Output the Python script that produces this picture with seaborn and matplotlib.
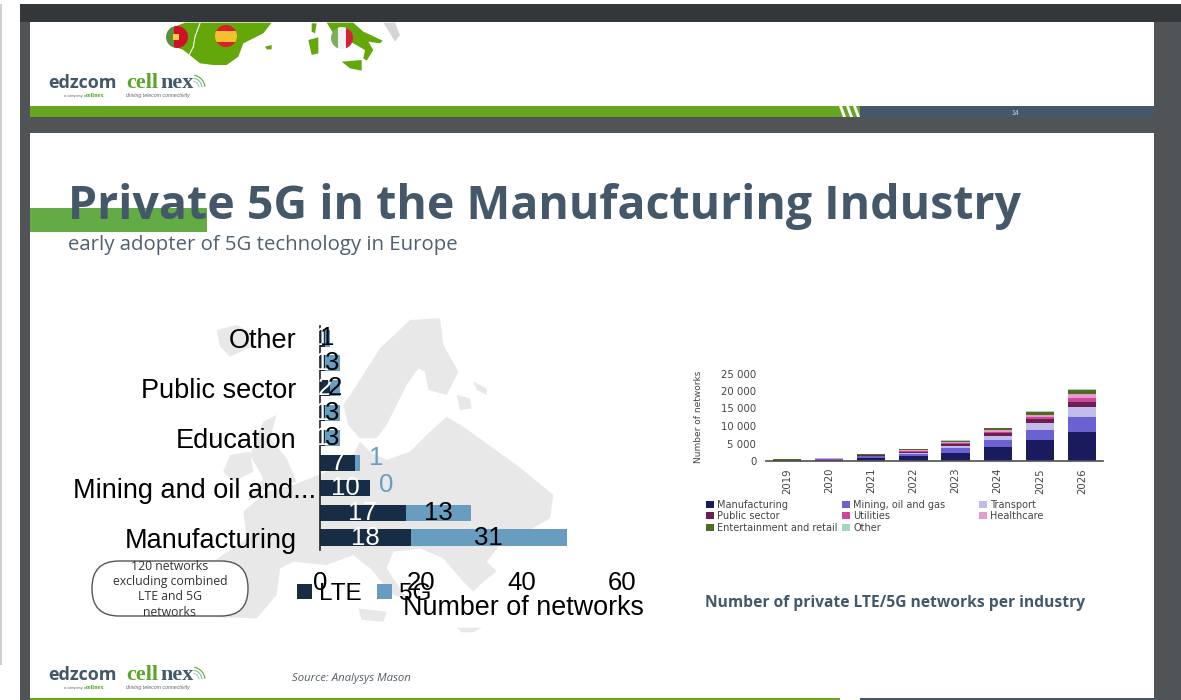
import numpy as np
import pandas as pd
import matplotlib
matplotlib.use('Agg')
import matplotlib.pyplot as plt
from matplotlib.patches import Rectangle, Polygon, Circle, FancyBboxPatch, Arc
from matplotlib.transforms import ScaledTranslation
import seaborn as sns

W, H = 1181, 700

# left chart
row_names = ['Other', 'r2', 'Public sector', 'r4', 'Education', 'r6', 'Mining and oil and...', 'r8', 'Manufacturing']
shown_labels = ['Other', '', 'Public sector', '', 'Education', '', 'Mining and oil and...', '', 'Manufacturing']
lte_values = [1, 1, 2, 1, 1, 7, 10, 17, 18]
g5_values = [1, 3, 2, 3, 3, 1, 0, 13, 31]
left_ticks = [0, 20, 40, 60]

# right chart
years = ['2019', '2020', '2021', '2022', '2023', '2024', '2025', '2026']
manufacturing = [250, 400, 850, 1330, 2380, 4090, 6000, 8200]
mining = [80, 150, 480, 760, 1320, 1900, 2930, 4250]
transport = [30, 50, 100, 290, 580, 1130, 1810, 3050]
public_sector = [30, 70, 190, 280, 470, 760, 1240, 1500]
utilities = [15, 30, 90, 190, 290, 470, 570, 1060]
healthcare = [15, 30, 90, 190, 280, 390, 650, 1050]
entertainment = [15, 40, 100, 290, 480, 570, 680, 1150]
other = [15, 30, 100, 190, 200, 180, 380, 250]
right_ticks = [0, 5000, 10000, 15000, 20000, 25000]
right_tick_labels = ['0', '5 000', '10 000', '15 000', '20 000', '25 000']

series_names = ['Manufacturing', 'Mining, oil and gas', 'Transport', 'Public sector', 'Utilities',
                'Healthcare', 'Entertainment and retail', 'Other']
series_values = [manufacturing, mining, transport, public_sector, utilities, healthcare, entertainment, other]
series_colors = ['#1a1a5e', '#6a62d2', '#c1bdea', '#6e1f52', '#c9479e', '#e59ad0', '#4e6b22', '#a5d6b9']

LTE_COL = '#172c45'
G5_COL = '#689dbf'
SLATE = '#44586a'
GREEN = '#66a51f'


def px_axes(fig, left, top, right, bottom):
    return fig.add_axes([left / W, 1 - bottom / H, (right - left) / W, (bottom - top) / H])


def zoom_poly(points, ox, oy):
    # outlines were traced on 3x crops of the slide
    return [(ox + x / 3, oy + y / 3) for x, y in points]


def flag(bg, cx, cy, r, bands):
    circle = Circle((cx, cy), r, transform=bg.transData, fc='none', ec='none')
    bg.add_patch(circle)
    for x0, y0, w, h, c in bands:
        rect = Rectangle((cx + x0 * r, cy + y0 * r), w * r, h * r, fc=c, ec='none', zorder=3)
        bg.add_patch(rect)
        rect.set_clip_path(circle)


def logo(bg, y):
    bg.text(48, y, 'edzcom', fontsize=13, fontweight='bold', color=SLATE, family='Open Sans', va='center')
    bg.text(126, y, 'cell', fontsize=16, fontweight='bold', color='#5ea52c', family='Liberation Serif', va='center')
    bg.text(160, y, 'nex', fontsize=16, fontweight='bold', color=SLATE, family='Liberation Serif', va='center')
    bg.text(64, y + 12.5, 'a company of', fontsize=2.8, color='#666666', va='center')
    bg.text(86, y + 12.5, 'cellnex', fontsize=4.5, fontweight='bold', color='#5ea52c', family='Liberation Serif', va='center')
    bg.text(126, y + 12.5, 'driving telecom connectivity', fontsize=3.8, color='#666666', style='italic', va='center')
    for r, c in [(14, '#9bd0b8'), (20, '#7cc0a8'), (26, '#5ea52c')]:
        bg.add_patch(Arc((192, y + 5), r, r, theta1=280, theta2=355, ec=c, lw=0.8))


def draw_slide(bg):
    bg.set_xlim(0, W)
    bg.set_ylim(H, 0)
    bg.axis('off')
    bg.add_patch(Rectangle((0, 4), 1.5, 661, fc='#d0d0d0', ec='none'))
    bg.add_patch(Rectangle((20, 4), W - 20, H - 4, fc='#505457', ec='none'))
    bg.add_patch(Rectangle((30, 22), 1124, 95, fc='white', ec='none'))
    bg.add_patch(Rectangle((30, 133), 1124, 567, fc='white', ec='none'))

    # map piece on the upper slide
    for pts in [[(555, 68), (815, 68), (790, 100), (730, 130), (715, 170), (680, 195), (640, 195), (600, 190),
                 (575, 170), (550, 150), (525, 140), (500, 120), (510, 85)],
                [(980, 68), (1060, 68), (1090, 95), (1148, 122), (1140, 130), (1105, 125), (1120, 150), (1100, 182),
                 (1090, 175), (1095, 150), (1060, 130), (1020, 115), (1000, 100)],
                [(925, 120), (955, 112), (955, 160), (935, 165)],
                [(935, 70), (950, 70), (945, 100), (935, 95)],
                [(1025, 185), (1085, 180), (1085, 212), (1050, 205)],
                [(795, 140), (815, 135), (815, 148), (800, 148)]]:
        bg.add_patch(Polygon(zoom_poly(pts, 0, 0), fc='#64a70b', ec='none'))
    bg.add_patch(Polygon(zoom_poly([(1150, 68), (1185, 68), (1200, 105), (1185, 125), (1170, 100)], 0, 0), fc='#d5d5d5', ec='none'))
    bg.plot(*zip(*zoom_poly([(600, 70), (585, 110), (580, 140), (565, 170)], 0, 0)), color='white', lw=0.8)
    flag(bg, 177, 37, 11, [(-1, -1, 0.7, 2, '#5f8f3a'), (-0.3, -1, 1.3, 2, '#d0102a'), (-0.4, -0.3, 0.6, 0.6, '#f0d040')])
    flag(bg, 226, 36, 11, [(-1, -1, 2, 0.5, '#d8202a'), (-1, -0.5, 2, 1, '#f5c030'), (-1, 0.5, 2, 0.5, '#d8202a')])
    flag(bg, 342, 38, 11, [(-1, -1, 0.67, 2, '#7fae5a'), (-0.33, -1, 0.67, 2, '#f2f2f2'), (0.33, -1, 0.67, 2, '#d8203a')])
    bg.add_patch(Rectangle((20, 4), W - 20, 18, fc='#33373a', ec='none'))

    # footer band of the upper slide
    bg.add_patch(Rectangle((30, 106), 830, 11, fc=GREEN, ec='none'))
    bg.add_patch(Rectangle((860, 106), 294, 11, fc=SLATE, ec='none'))
    for x in (842, 849, 856):
        bg.add_patch(Polygon([(x - 3, 106), (x, 106), (x + 4, 117), (x + 1, 117)], fc='white', ec='none'))
    bg.text(1015, 113.5, '14', fontsize=5, color='#c8d4dc', ha='center', va='center')
    logo(bg, 83)

    # footer band of the lower slide
    bg.add_patch(Rectangle((30, 698), 810, 2, fc=GREEN, ec='none'))
    bg.add_patch(Rectangle((860, 698), 294, 2, fc=SLATE, ec='none'))
    logo(bg, 675)
    bg.text(292, 678, 'Source: Analysys Mason', fontsize=8.2, style='italic', color='#555f68', family='Open Sans', va='center')

    # title block
    bg.add_patch(Rectangle((30, 208), 177, 24, fc='#62ab45', ec='none'))
    bg.text(68, 207, 'Private 5G in the Manufacturing Industry', fontsize=33.5, fontweight='bold', color=SLATE,
            family='Open Sans', va='center')
    bg.text(68, 245, 'early adopter of 5G technology in Europe', fontsize=14.7, color='#4f6070', family='Open Sans', va='center')

    # grey Europe behind the left chart
    land = [[(110, 75), (170, 60), (225, 90), (215, 125), (150, 155), (120, 125)],
            [(530, 240), (600, 130), (690, 45), (780, 40), (790, 120), (835, 200), (800, 270), (745, 255), (735, 200),
             (715, 190), (680, 240), (650, 300), (620, 360), (590, 400), (540, 400), (505, 360), (490, 300)],
            [(540, 410), (570, 440), (620, 465), (690, 440), (745, 385), (800, 335), (850, 365), (940, 430), (1010, 480),
             (1120, 570), (1110, 640), (1040, 680), (990, 690), (960, 720), (920, 770), (950, 800), (910, 830), (880, 860),
             (850, 830), (790, 760), (720, 730), (640, 740), (620, 790), (680, 880), (640, 870), (570, 790), (520, 750),
             (440, 780), (340, 770), (300, 790), (290, 870), (230, 940), (60, 935), (10, 900), (30, 770), (100, 770),
             (200, 700), (190, 620), (260, 560), (340, 540), (440, 500), (510, 470)],
            [(250, 350), (290, 330), (270, 400), (320, 460), (350, 530), (260, 550), (200, 590), (250, 520), (210, 450)],
            [(150, 450), (210, 440), (220, 500), (160, 530), (130, 500)],
            [(830, 270), (870, 280), (875, 310), (840, 315)],
            [(880, 230), (920, 250), (920, 270), (890, 255)],
            [(535, 910), (620, 920), (610, 950), (545, 945)],
            [(830, 968), (905, 968), (880, 982), (845, 982)]]
    for pts in land:
        bg.add_patch(Polygon(zoom_poly(pts, 180, 305), fc='#e8e8e8', ec='none'))

    # callout
    bg.add_patch(FancyBboxPatch((92, 561), 156, 55, boxstyle='round,pad=0,rounding_size=27', fc='white', ec='#555555', lw=1))
    for y, line in zip([566, 581, 596, 612], ['120 networks', 'excluding combined', 'LTE and 5G', 'networks']):
        bg.text(170, y, line, fontsize=8.8, color='#333333', family='Open Sans', ha='center', va='center')

    bg.text(705, 603, 'Number of private LTE/5G networks per industry', fontsize=11.25, fontweight='bold', color=SLATE,
            family='Open Sans', va='center')


def draw_left(fig):
    ax = px_axes(fig, 320, 326, 622, 550)
    ax.patch.set_alpha(0)
    sns.barplot(x=lte_values, y=row_names, color=LTE_COL, saturation=1, width=0.65, orient='y', label='LTE',
                linewidth=0, ax=ax)
    sns.barplot(x=g5_values, y=row_names, left=lte_values, color=G5_COL, saturation=1, width=0.65, orient='y', label='5G',
                linewidth=0, ax=ax)
    ax.set_xlim(0, 60)
    ax.set_ylim(8.5, -0.5)
    sns.despine(ax=ax, left=False, bottom=True)
    ax.spines['left'].set_color('#222222')
    ax.spines['left'].set_linewidth(1.2)
    ax.set_yticks(range(len(shown_labels)), shown_labels)
    ax.set_xticks(left_ticks)
    ax.tick_params(axis='y', length=0, pad=17, labelsize=19.5, labelcolor='black')
    ax.tick_params(axis='x', length=0, pad=15, labelsize=18.5, labelcolor='black')
    # the truncated label runs closer to the axis than the others
    mining_label = ax.get_yticklabels()[6]
    mining_label.set_transform(mining_label.get_transform() + ScaledTranslation(20 / 100, 0, fig.dpi_scale_trans))
    ax.set_xlabel('Number of networks', fontsize=19.4, color='black')
    ax.xaxis.set_label_coords(203 / 302, -0.2)
    ax.set_ylabel('')

    for i, (a, b) in enumerate(zip(lte_values, g5_values)):
        ax.text(a / 2, i, str(a), color='white', fontsize=18.5, ha='center', va='center')
        if a >= 5 and b <= 1:
            # small 5G values sit outside the bar, in blue
            ax.text(a + b + 3.1, i - 0.2 + (a == 10) * 0.1, str(b), color=G5_COL, fontsize=18.5, ha='center', va='center')
        else:
            ax.text(a + b / 2, i, str(b), color='black', fontsize=18.5, ha='center', va='center')

    handles, labels = ax.get_legend_handles_labels()
    if ax.get_legend():
        ax.get_legend().remove()
    fig.legend(handles, labels, loc='center left', bbox_to_anchor=(297 / W, 1 - 594 / H), ncol=2, frameon=False,
               fontsize=17.5, handlelength=0.62, handleheight=0.62, handletextpad=0.3, columnspacing=0.6,
               labelcolor='black', borderpad=0, borderaxespad=0)


def draw_right(fig):
    ax = px_axes(fig, 766, 373.5, 1103, 461)
    ax.patch.set_alpha(0)
    df = pd.DataFrame({'year': years})
    bottoms = np.zeros(len(years))
    for name, vals, col in zip(series_names, series_values, series_colors):
        df[name] = vals
        sns.barplot(data=df, x='year', y=name, bottom=bottoms, color=col, saturation=1, width=0.67, label=name,
                    linewidth=0, ax=ax)
        bottoms = bottoms + np.array(vals)
    ax.set_xlim(-0.5, 7.5)
    ax.set_ylim(0, 25000)
    sns.despine(ax=ax, left=True)
    ax.spines['bottom'].set_color('#555555')
    ax.set_yticks(right_ticks, right_tick_labels)
    ax.tick_params(axis='y', length=0, pad=7, labelsize=7.3, labelcolor='#444444', labelfontfamily='DejaVu Sans')
    ax.tick_params(axis='x', length=0, pad=5, labelsize=7.3, labelcolor='#444444', labelrotation=90, labelfontfamily='DejaVu Sans')
    ax.set_xlabel('')
    ax.set_ylabel('Number of networks', fontsize=6.5, color='#444444', family='DejaVu Sans')
    ax.yaxis.set_label_coords(-63 / 337, 0.5)

    handles, labels = ax.get_legend_handles_labels()
    if ax.get_legend():
        ax.get_legend().remove()
    lookup = dict(zip(labels, handles))
    columns = [(706, ['Manufacturing', 'Public sector', 'Entertainment and retail']),
               (842, ['Mining, oil and gas', 'Utilities', 'Other']),
               (979, ['Transport', 'Healthcare'])]
    for x, names in columns:
        fig.legend([lookup[n] for n in names], names, loc='upper left', bbox_to_anchor=(x / W, 1 - 499.5 / H), frameon=False,
                   handlelength=0.85, handleheight=0.75, handletextpad=0.3, labelspacing=0.16,
                   labelcolor='#444444', borderpad=0, borderaxespad=0, prop={'family': 'DejaVu Sans', 'size': 7})


def run():
    sns.set_theme(style='white')
    plt.rcParams['font.family'] = ['Liberation Sans', 'DejaVu Sans']
    fig = plt.figure(figsize=(W / 100, H / 100), dpi=100, facecolor='white')
    bg = fig.add_axes([0, 0, 1, 1])
    draw_slide(bg)
    draw_left(fig)
    draw_right(fig)
    fig.savefig('out.png', dpi=100)


if __name__ == '__main__':
    run()
